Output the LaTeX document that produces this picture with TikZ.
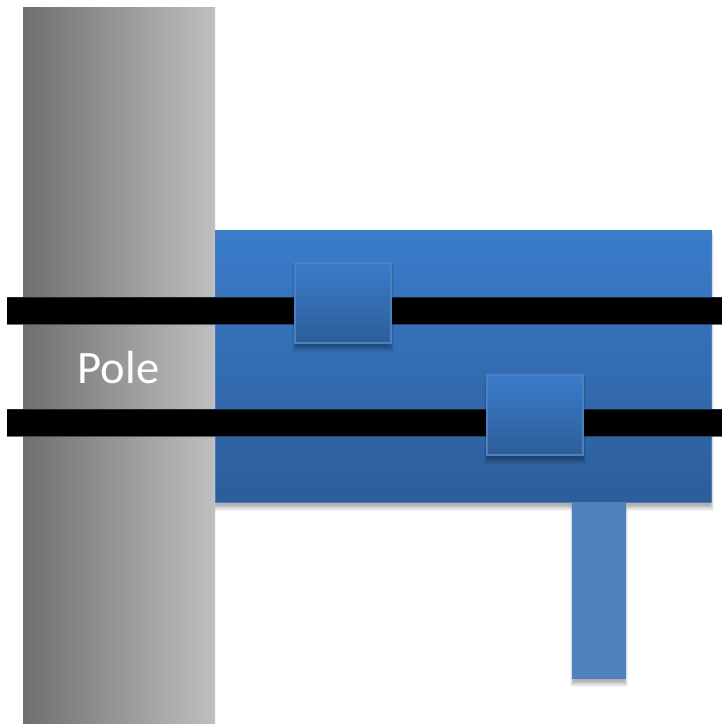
\documentclass[tikz,border=0pt]{standalone}
\usepackage{fontspec}
\setmainfont{Carlito}
\definecolor{blueTop}{HTML}{3A7CCB}
\definecolor{blueBot}{HTML}{2C5D99}
\definecolor{blueEdge}{HTML}{4A7EBB}
\definecolor{stemBlue}{HTML}{4F81BD}
\definecolor{poleDark}{HTML}{6F6F6F}
\definecolor{poleLight}{HTML}{BFBFBF}
\newcommand{\softshadow}[4]{%
  \foreach \g in {7,6,...,0}{
    \fill[black,opacity=0.045] ({#1+1.6-\g*0.45},{#2+3}) rectangle ({#3-1.6+\g*0.45},{#4+1.6+\g*0.95});
  }}
\tikzset{
  x=1pt,y=-1pt,
  panelshape/.style={top color=blueTop,bottom color=blueBot,draw=blueEdge,line width=1.2pt},
  clampshape/.style={top color=blueTop,bottom color=blueBot,draw=stemBlue!90!blueTop,line width=1.6pt},
  strap/.style={fill=black},
  strapedge/.style={draw=black!55!blueEdge,line width=0.9pt,opacity=0.7},
  stemshape/.style={fill=stemBlue},
  polelabel/.style={text=white,font=\fontsize{46.5}{54}\selectfont,inner sep=0pt}
}
\begin{document}
\begin{tikzpicture}
\useasboundingbox[fill=white] (0,0) rectangle (722,724);
% pole
\shade[left color=poleDark,right color=poleLight] (23,7) rectangle (215,724);
% panel
\begin{scope}
\clip (215,230) rectangle (722,724);
\softshadow{215}{230}{712}{503}
\end{scope}
\path[panelshape] (215.6,230.6) rectangle (711.4,502.6);
% stem
\softshadow{572}{503}{626}{679}
\fill[stemshape] (572,503) rectangle (626,679);
% straps
\fill[strap] (7,297) rectangle (722,324);
\fill[strap] (7,409) rectangle (722,436);
\draw[strapedge] (7,297) -- (722,297) (7,324) -- (722,324);
\draw[strapedge] (7,409) -- (722,409) (7,436) -- (722,436);
% clamps
\softshadow{294}{262}{392}{344}
\path[clampshape] (294.8,262.8) rectangle (391.2,343.2);
\softshadow{486}{374}{584}{456}
\path[clampshape] (486.8,374.8) rectangle (583.2,455.2);
% label
\node[polelabel] (pole) at (118.5,368) {Pole};
\end{tikzpicture}
\end{document}
